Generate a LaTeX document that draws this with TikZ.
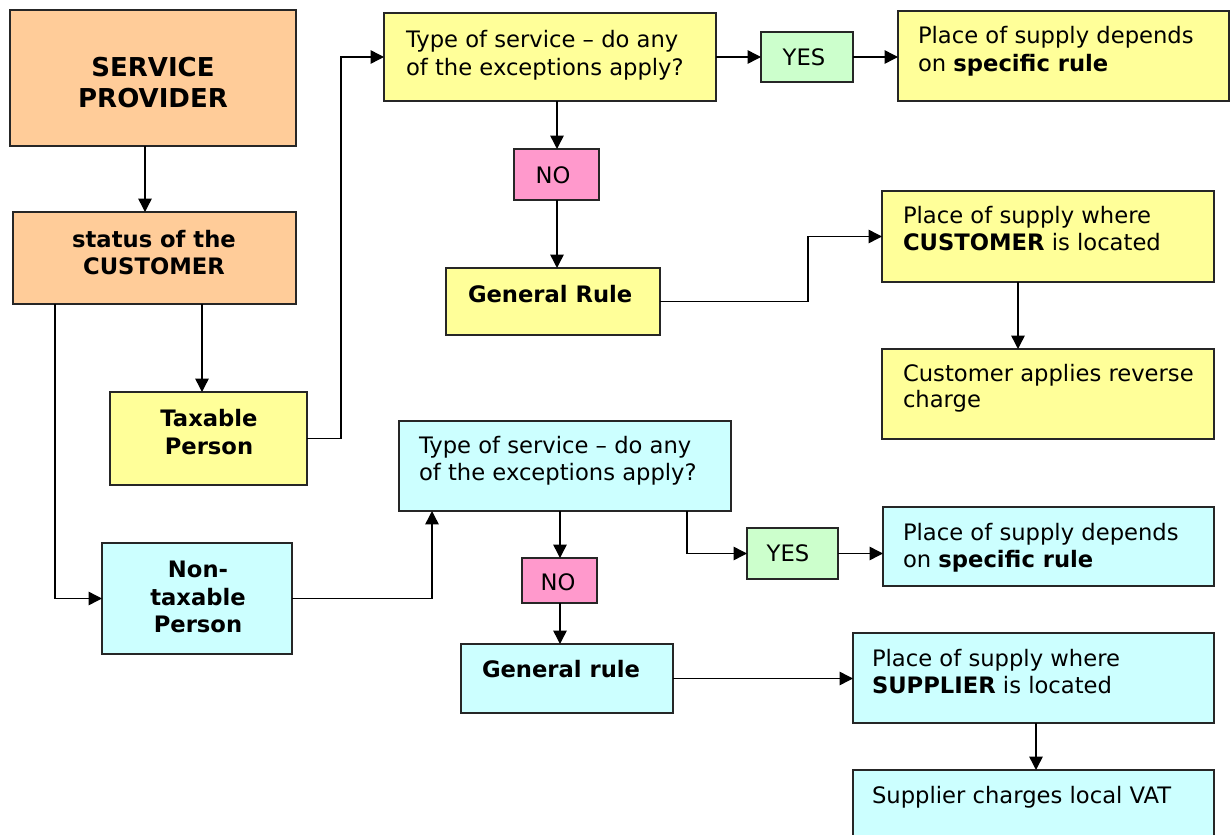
\documentclass[tikz,border=0pt]{standalone}
\usepackage{fontspec}
\setmainfont{DejaVu Sans}
\usetikzlibrary{arrows.meta}
\definecolor{corange}{HTML}{FFCC99}
\definecolor{cyellow}{HTML}{FFFF99}
\definecolor{ccyan}{HTML}{CCFFFF}
\definecolor{cpink}{HTML}{FF99CC}
\definecolor{cgreen}{HTML}{CCFFCC}
\tikzset{
  box/.style={draw=black!85, line width=1.5pt, rectangle, inner sep=0pt, outer sep=0pt, anchor=north west},
  arr/.style={draw=black, line width=1.1pt, -{Triangle[length=10pt,width=10pt]}},
  lbl/.style={inner sep=0pt, outer sep=0pt, anchor=base west, font=\fontsize{17}{21}\selectfont},
  clbl/.style={lbl, anchor=base},
  blbl/.style={clbl, font=\fontsize{17}{21}\selectfont\bfseries},
  bigbl/.style={clbl, font=\fontsize{19.5}{24}\selectfont\bfseries}
}
\newcommand\mybox[6]{\node[box,fill=#2,minimum width={(#5-#3)*0.75pt},minimum height={(#6-#4)*0.75pt}] (#1) at (#3,#4) {};}
\begin{document}
\begin{tikzpicture}[x=0.75pt,y=-0.75pt]
\useasboundingbox (0,0) rectangle (1232,835);
\clip (0,0) rectangle (1232,835);
% boxes
\mybox{sp}{corange}{10}{10}{296}{146}
\mybox{status}{corange}{13}{212}{296}{304}
\mybox{taxable}{cyellow}{110}{392}{307}{485}
\mybox{nontax}{ccyan}{102}{543}{292}{654}
\mybox{type1}{cyellow}{384}{13}{716}{101}
\mybox{yes1}{cgreen}{761}{32}{853}{82}
\mybox{place1}{cyellow}{898}{11}{1229}{101}
\mybox{no1}{cpink}{514}{149}{599}{200}
\mybox{gr1}{cyellow}{446}{268}{660}{335}
\mybox{placecust}{cyellow}{882}{191}{1214}{282}
\mybox{custapp}{cyellow}{882}{349}{1214}{439}
\mybox{type2}{ccyan}{399}{421}{731}{511}
\mybox{no2}{cpink}{522}{558}{597}{603}
\mybox{yes2}{cgreen}{747}{528}{838}{579}
\mybox{place2}{ccyan}{883}{507}{1214}{586}
\mybox{gr2}{ccyan}{461}{644}{673}{713}
\mybox{placesup}{ccyan}{853}{633}{1214}{723}
\mybox{supch}{ccyan}{853}{770}{1214}{860}
% texts
\node[bigbl] (t-sp1) at (153,76) {SERVICE};
\node[bigbl] (t-sp2) at (153,107) {PROVIDER};
\node[blbl] (t-st1) at (154,247) {status of the};
\node[blbl] (t-st2) at (154,274) {CUSTOMER};
\node[blbl] (t-tx1) at (209,426) {Taxable};
\node[blbl] (t-tx2) at (209,454) {Person};
\node[blbl] (t-nt1) at (198,577) {Non-};
\node[blbl] (t-nt2) at (198,605) {taxable};
\node[blbl] (t-nt3) at (198,632) {Person};
\node[lbl] (t-ty11) at (406,47) {Type of service – do any};
\node[lbl] (t-ty12) at (406,75) {of the exceptions apply?};
\node[clbl] (t-yes1) at (804,65) {YES};
\node[lbl] (t-pl11) at (918,43) {Place of supply depends};
\node[lbl] (t-pl12) at (918,71) {on \textbf{specific rule}};
\node[clbl] (t-no1) at (553,183) {NO};
\node[lbl, font=\fontsize{17}{21}\selectfont\bfseries] (t-gr1) at (468,302) {General Rule};
\node[lbl] (t-pc1) at (903,223) {Place of supply where};
\node[lbl] (t-pc2) at (903,250) {\textbf{CUSTOMER} is located};
\node[lbl] (t-ca1) at (903,381) {Customer applies reverse};
\node[lbl] (t-ca2) at (903,407) {charge};
\node[lbl] (t-ty21) at (419,453) {Type of service – do any};
\node[lbl] (t-ty22) at (419,480) {of the exceptions apply?};
\node[clbl] (t-no2) at (558,590) {NO};
\node[clbl] (t-yes2) at (788,561) {YES};
\node[lbl] (t-p21) at (903,540) {Place of supply depends};
\node[lbl] (t-p22) at (903,567) {on \textbf{specific rule}};
\node[lbl, font=\fontsize{17}{21}\selectfont\bfseries] (t-gr2) at (482,677) {General rule};
\node[lbl] (t-ps1) at (872,666) {Place of supply where};
\node[lbl] (t-ps2) at (872,693) {\textbf{SUPPLIER} is located};
\node[lbl] (t-sc1) at (872,803) {Supplier charges local VAT};
% connector x positions
\coordinate (xa) at (145,0);
\coordinate (xb) at (55,0);
\coordinate (xc) at (202,0);
\coordinate (xd) at (341,0);
\coordinate (xe) at (557,0);
\coordinate (xf) at (808,0);
\coordinate (xg) at (1018,0);
\coordinate (xh) at (432,0);
\coordinate (xi) at (560,0);
\coordinate (xj) at (687,0);
\coordinate (xk) at (1036,0);
% connectors
\draw[arr] (sp.south -| xa) -- (status.north -| xa);
\draw[arr] (status.south -| xb) |- (nontax.west);
\draw[arr] (status.south -| xc) -- (taxable.north -| xc);
\draw[arr] (taxable.east) -| (type1.west -| xd) -- (type1.west);
\draw[arr] (type1.east) -- (type1.east -| yes1.west);
\draw[arr] (yes1.east) -- (yes1.east -| place1.west);
\draw[arr] (type1.south -| xe) -- (no1.north -| xe);
\draw[arr] (no1.south -| xe) -- (gr1.north -| xe);
\draw[arr] (gr1.east) -| (placecust.west -| xf) -- (placecust.west);
\draw[arr] (placecust.south -| xg) -- (custapp.north -| xg);
\draw[arr] (nontax.east) -| (type2.south -| xh);
\draw[arr] (type2.south -| xi) -- (no2.north -| xi);
\draw[arr] (no2.south -| xi) -- (gr2.north -| xi);
\draw[arr] (type2.south -| xj) |- (yes2.west);
\draw[arr] (yes2.east) -- (yes2.east -| place2.west);
\draw[arr] (gr2.east) -- (gr2.east -| placesup.west);
\draw[arr] (placesup.south -| xk) -- (supch.north -| xk);
\end{tikzpicture}
\end{document}
